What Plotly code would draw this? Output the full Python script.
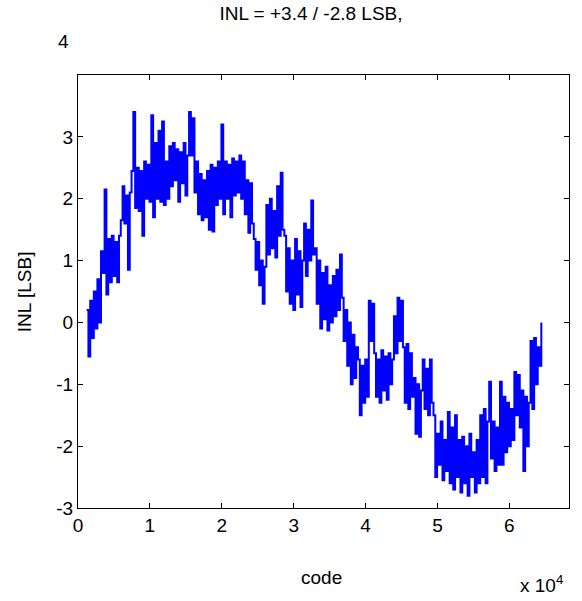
import numpy as np
import plotly.graph_objects as go

# ---- data ----
code_start = 1200
code_step = 250
inl_values = [
    0.2, -0.55, 0.35, -0.25, 0.5, -0.1, 0.7, 0.0, 1.15, 0.8,
    2.15, 0.45, 1.35, 0.65, 1.4, 0.75, 1.3, 0.65, 1.4, 1.65,
    2.2, 1.6, 2.05, 0.85, 2.1, 2.45, 3.4, 1.85, 2.5, 1.8,
    2.45, 1.4, 2.6, 2.0, 2.55, 1.95, 3.35, 1.7, 2.9, 2.0,
    3.1, 1.95, 3.25, 1.9, 2.6, 2.0, 2.85, 2.2, 2.9, 2.3,
    2.8, 1.95, 2.75, 2.25, 2.9, 2.05, 2.7, 3.4, 2.7, 3.3,
    2.1, 2.6, 1.75, 2.4, 1.65, 2.3, 1.7, 2.45, 1.5, 2.55,
    1.47, 2.5, 1.9, 2.6, 2.0, 3.2, 1.75, 2.6, 2.0, 2.55,
    1.7, 2.65, 2.05, 2.6, 2.1, 2.7, 2.0, 2.6, 1.75, 2.3,
    1.45, 2.25, 1.6, 1.35, 0.85, 1.3, 0.6, 1.0, 0.3, 0.9,
    1.9, 1.1, 2.0, 1.2, 1.8, 1.05, 2.2, 1.4, 2.42, 1.5,
    1.4, 0.5, 1.2, 0.3, 1.0, 0.2, 1.35, 0.45, 1.15, 0.25,
    1.0, 1.6, 0.75, 1.5, 1.0, 1.97, 1.1, 1.2, 0.3, 1.0,
    -0.1, 0.8, 0.05, 0.9, -0.13, 0.6, 0.0, 0.75, 0.1, 0.85,
    0.2, 1.1, 0.4, -0.3, 0.2, -0.7, 0.0, -1.0, -0.2, -0.9,
    -0.4, -0.6, -1.5, -0.7, -1.3, -0.6, -1.2, 0.35, -0.3, 0.3,
    -0.5, -1.2, -0.6, -1.3, -0.45, -1.1, -0.55, -1.25, -0.5, -1.0,
    -0.6, 0.1, -0.5, 0.4, -0.3, 0.35, -0.4, -1.3, -0.35, -1.4,
    -0.5, -1.2, -0.9, -1.8, -1.0, -1.85, -1.1, -0.6, -1.4, -0.75,
    -1.5, -0.6, -1.3, -1.5, -2.5, -1.8, -2.3, -1.6, -2.55, -1.9,
    -2.4, -1.45, -2.6, -1.7, -2.7, -1.5, -2.5, -1.9, -2.75, -1.85,
    -2.6, -2.0, -2.8, -1.8, -2.5, -2.1, -2.75, -1.9, -2.6, -1.5,
    -2.5, -1.4, -2.6, -1.6, -0.96, -2.2, -1.6, -2.4, -1.7, -2.3,
    -0.96, -2.3, -1.2, -2.1, -1.3, -2.0, -1.4, -1.9, -0.8, -1.5,
    -0.85, -1.7, -1.1, -2.4, -1.2, -2.0, -1.3, -0.3, -1.4, -0.25,
    -1.0, -0.4, -0.7, 0.0,
]
codes = code_start + code_step * np.arange(len(inl_values))

x_tick_vals = [0, 10000, 20000, 30000, 40000, 50000, 60000]
x_tick_text = ["0", "1", "2", "3", "4", "5", "6"]
y_tick_vals = [-3, -2, -1, 0, 1, 2, 3]
y_tick_text = ["-3", "-2", "-1", "0", "1", "2", "3"]

title_text = "INL = +3.4 / -2.8 LSB,"
x_label = "code"
y_label = "INL [LSB]"

FONT = "Liberation Sans, Arial, sans-serif"
FS = 19

fig = go.Figure()
fig.add_trace(go.Scatter(
    x=codes, y=inl_values, mode="lines",
    line=dict(color="#0000ff", width=2, shape="hv"),
    showlegend=False, hoverinfo="skip",
))

axis_common = dict(
    showline=True, linecolor="black", linewidth=1.2, mirror="ticks",
    ticks="inside", ticklen=5, tickcolor="black", tickwidth=1,
    showgrid=False, zeroline=False,
    tickfont=dict(family=FONT, size=FS, color="black"),
)

fig.update_layout(
    width=582, height=601,
    margin=dict(l=78, r=13, t=75, b=93),
    paper_bgcolor="white", plot_bgcolor="white",
    font=dict(family=FONT, size=FS, color="black"),
    title=dict(text=title_text, x=311 / 582, xanchor="center",
               y=1 - 13 / 601, yanchor="middle",
               font=dict(family=FONT, size=FS, color="black")),
    xaxis=dict(range=[0, 68300], tickvals=x_tick_vals, ticktext=x_tick_text,
               **axis_common),
    yaxis=dict(range=[-3, 4], tickvals=y_tick_vals, ticktext=y_tick_text,
               **axis_common),
)

annos = [
    dict(text="4", x=-0.0149, y=(508 - 41) / 433, xanchor="right", yanchor="middle"),
    dict(text=x_label, x=(322 - 78.3) / 490.7, y=(508 - 577) / 433, xanchor="center", yanchor="middle"),
    dict(text="x 10<sup>4</sup>", x=(518 - 78.3) / 490.7, y=(508 - 584) / 433,
         xanchor="left", yanchor="middle"),
    dict(text=y_label, x=(25 - 78.3) / 490.7, y=0.5, xanchor="center", yanchor="middle",
         textangle=-90),
]
for a in annos:
    fig.add_annotation(xref="paper", yref="paper", showarrow=False,
                       font=dict(family=FONT, size=FS, color="black"), **a)

fig.write_html("out.html")
